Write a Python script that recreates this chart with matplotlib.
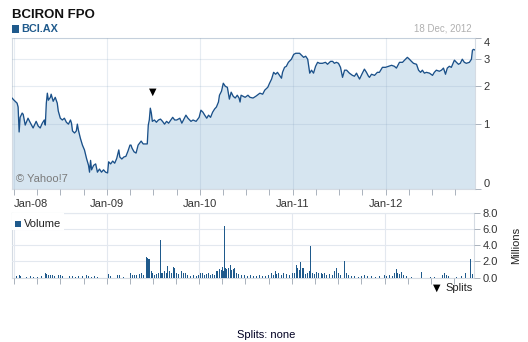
import numpy as np
import pandas as pd
import matplotlib
matplotlib.use('Agg')
import matplotlib.pyplot as plt
import matplotlib.dates as mdates
from matplotlib.patches import Rectangle
from matplotlib.ticker import FixedLocator, FormatStrFormatter

plt.rcParams['font.family'] = ['Liberation Sans', 'DejaVu Sans']

# ---- data --------------------------------------------------------------------
price_dates = [
    '2007-12-24', '2008-01-01', '2008-01-13', '2008-01-17', '2008-01-21', '2008-01-25',
    '2008-02-02', '2008-02-06', '2008-02-14', '2008-02-25', '2008-03-04', '2008-03-16',
    '2008-03-28', '2008-04-05', '2008-04-13', '2008-04-21', '2008-04-29', '2008-05-03',
    '2008-05-07', '2008-05-11', '2008-05-15', '2008-05-23', '2008-05-26', '2008-06-03',
    '2008-06-11', '2008-06-19', '2008-06-23', '2008-07-01', '2008-07-09', '2008-07-17',
    '2008-07-25', '2008-08-02', '2008-08-10', '2008-08-14', '2008-08-18', '2008-08-26',
    '2008-09-02', '2008-09-06', '2008-09-10', '2008-09-18', '2008-09-26', '2008-10-04',
    '2008-10-12', '2008-10-20', '2008-10-24', '2008-10-28', '2008-11-01', '2008-11-09',
    '2008-11-17', '2008-11-24', '2008-12-02', '2008-12-10', '2008-12-18', '2008-12-26',
    '2009-01-03', '2009-01-07', '2009-01-15', '2009-01-23', '2009-01-31', '2009-02-08',
    '2009-02-16', '2009-02-20', '2009-02-28', '2009-03-08', '2009-03-16', '2009-03-24',
    '2009-04-01', '2009-04-05', '2009-04-09', '2009-04-17', '2009-04-25', '2009-05-03',
    '2009-05-15', '2009-05-23', '2009-06-08', '2009-06-12', '2009-06-16', '2009-06-20',
    '2009-06-24', '2009-06-28', '2009-07-06', '2009-07-14', '2009-07-22', '2009-07-30',
    '2009-08-07', '2009-08-15', '2009-08-23', '2009-08-31', '2009-09-16', '2009-09-24',
    '2009-10-02', '2009-10-14', '2009-10-22', '2009-11-07', '2009-11-15', '2009-11-27',
    '2009-12-05', '2009-12-17', '2009-12-29', '2010-01-05', '2010-01-13', '2010-01-20',
    '2010-01-28', '2010-02-04', '2010-02-12', '2010-02-20', '2010-02-28', '2010-03-07',
    '2010-03-15', '2010-03-19', '2010-03-27', '2010-04-03', '2010-04-11', '2010-04-19',
    '2010-04-27', '2010-05-04', '2010-05-12', '2010-05-20', '2010-05-28', '2010-06-04',
    '2010-06-08', '2010-06-12', '2010-06-20', '2010-06-28', '2010-07-09', '2010-07-17',
    '2010-07-29', '2010-08-09', '2010-08-25', '2010-09-05', '2010-09-13', '2010-09-25',
    '2010-10-02', '2010-10-10', '2010-10-18', '2010-10-26', '2010-11-02', '2010-11-10',
    '2010-11-18', '2010-11-22', '2010-11-30', '2010-12-07', '2010-12-15', '2010-12-23',
    '2010-12-27', '2011-01-05', '2011-01-13', '2011-01-21', '2011-01-28', '2011-02-05',
    '2011-02-13', '2011-02-21', '2011-03-01', '2011-03-09', '2011-03-16', '2011-03-24',
    '2011-04-01', '2011-04-09', '2011-04-17', '2011-04-28', '2011-05-10', '2011-05-18',
    '2011-05-30', '2011-06-07', '2011-06-14', '2011-06-22', '2011-06-30', '2011-07-08',
    '2011-07-16', '2011-07-24', '2011-08-01', '2011-08-12', '2011-08-24', '2011-09-01',
    '2011-09-09', '2011-09-13', '2011-09-21', '2011-10-02', '2011-10-10', '2011-10-18',
    '2011-10-26', '2011-10-30', '2011-11-07', '2011-11-19', '2011-11-30', '2011-12-08',
    '2011-12-20', '2012-01-01', '2012-01-13', '2012-01-25', '2012-02-05', '2012-02-13',
    '2012-02-25', '2012-03-08', '2012-03-16', '2012-03-27', '2012-04-04', '2012-04-12',
    '2012-04-20', '2012-05-02', '2012-05-10', '2012-05-18', '2012-05-25', '2012-06-02',
    '2012-06-10', '2012-06-22', '2012-07-04', '2012-07-11', '2012-07-19', '2012-07-31',
    '2012-08-08', '2012-08-16', '2012-08-24', '2012-08-31', '2012-09-08', '2012-09-16',
    '2012-09-28', '2012-10-06', '2012-10-14', '2012-10-21', '2012-10-29', '2012-11-06',
    '2012-11-14', '2012-11-26', '2012-12-04', '2012-12-08', '2012-12-12', '2012-12-18',
]
prices = [
    1.64, 1.58, 1.50, 1.40, 0.84, 1.15,
    1.25, 1.22, 0.98, 1.13, 1.04, 0.92,
    1.06, 0.96, 0.92, 1.02, 1.09, 0.98,
    1.50, 1.78, 1.58, 1.66, 1.75, 1.55,
    1.66, 1.50, 1.30, 1.13, 1.09, 1.13,
    1.04, 1.00, 1.09, 1.02, 0.86, 0.82,
    0.86, 1.00, 0.88, 0.72, 0.60, 0.52,
    0.39, 0.29, 0.20, 0.36, 0.23, 0.29,
    0.31, 0.20, 0.24, 0.20, 0.23, 0.20,
    0.19, 0.34, 0.31, 0.35, 0.32, 0.39,
    0.52, 0.41, 0.38, 0.41, 0.42, 0.50,
    0.60, 0.60, 0.55, 0.49, 0.47, 0.60,
    0.67, 0.62, 0.62, 0.98, 1.09, 1.37,
    1.25, 1.06, 1.09, 1.04, 1.09, 1.11,
    1.06, 1.00, 1.06, 1.02, 1.15, 1.09,
    1.09, 1.13, 1.02, 1.20, 1.13, 1.06,
    1.09, 1.06, 1.15, 1.32, 1.27, 1.20,
    1.13, 1.20, 1.15, 1.27, 1.35, 1.40,
    1.53, 1.72, 1.84, 2.09, 1.99, 1.96,
    1.61, 1.81, 1.69, 1.64, 1.72, 1.64,
    1.53, 1.72, 1.69, 1.66, 1.72, 1.66,
    1.64, 1.69, 1.78, 1.75, 1.87, 1.96,
    2.09, 2.23, 2.47, 2.40, 2.47, 2.36,
    2.26, 2.47, 2.66, 2.70, 2.86, 2.95,
    2.99, 3.20, 3.25, 3.25, 3.25, 3.16,
    3.07, 3.12, 2.99, 2.44, 2.55, 2.44,
    2.70, 2.86, 2.82, 2.82, 2.86, 2.78,
    2.90, 2.90, 2.82, 2.86, 2.82, 2.66,
    2.29, 2.55, 2.55, 2.44, 2.36, 2.33,
    2.44, 2.36, 2.23, 2.44, 2.59, 2.47,
    2.33, 2.29, 2.40, 2.36, 2.47, 2.47,
    2.66, 2.66, 2.70, 2.74, 2.70, 2.63,
    2.86, 2.86, 2.95, 3.07, 2.99, 2.90,
    2.82, 2.78, 2.55, 2.47, 2.55, 2.44,
    2.47, 2.44, 2.36, 2.47, 2.55, 2.51,
    2.55, 2.63, 2.40, 2.63, 2.70, 2.66,
    2.95, 2.86, 2.78, 2.82, 2.99, 2.86,
    2.82, 2.86, 2.99, 3.39, 3.43, 3.40,
]

volume_dates = [
    '2008-01-09', '2008-01-21', '2008-01-25', '2008-02-21', '2008-03-04', '2008-03-16',
    '2008-04-01', '2008-04-17', '2008-05-03', '2008-05-07', '2008-05-15', '2008-05-23',
    '2008-05-30', '2008-06-07', '2008-06-23', '2008-07-01', '2008-07-09', '2008-08-06',
    '2008-08-18', '2008-08-30', '2008-09-10', '2008-09-26', '2008-10-12', '2008-10-20',
    '2008-11-01', '2008-11-13', '2008-11-24', '2009-01-07', '2009-01-15', '2009-02-12',
    '2009-02-20', '2009-03-08', '2009-04-05', '2009-04-13', '2009-04-21', '2009-04-29',
    '2009-05-11', '2009-05-19', '2009-05-27', '2009-06-08', '2009-06-12', '2009-06-16',
    '2009-06-24', '2009-06-28', '2009-07-06', '2009-07-14', '2009-07-22', '2009-07-30',
    '2009-08-03', '2009-08-07', '2009-08-15', '2009-08-23', '2009-08-27', '2009-09-04',
    '2009-09-12', '2009-09-20', '2009-09-24', '2009-10-02', '2009-10-10', '2009-10-22',
    '2009-10-30', '2009-11-07', '2009-11-15', '2009-11-27', '2009-12-09', '2009-12-21',
    '2009-12-29', '2010-01-05', '2010-01-13', '2010-01-20', '2010-01-28', '2010-02-04',
    '2010-02-12', '2010-02-20', '2010-02-28', '2010-03-11', '2010-03-19', '2010-03-27',
    '2010-04-03', '2010-04-07', '2010-04-11', '2010-04-15', '2010-04-19', '2010-04-27',
    '2010-05-04', '2010-05-08', '2010-05-16', '2010-05-20', '2010-05-28', '2010-06-04',
    '2010-06-16', '2010-06-28', '2010-07-09', '2010-07-21', '2010-08-02', '2010-08-13',
    '2010-08-25', '2010-09-05', '2010-09-17', '2010-09-29', '2010-10-10', '2010-10-18',
    '2010-10-26', '2010-11-02', '2010-11-10', '2010-11-22', '2010-11-30', '2010-12-11',
    '2010-12-23', '2011-01-01', '2011-01-09', '2011-01-17', '2011-01-24', '2011-02-01',
    '2011-02-05', '2011-02-13', '2011-02-21', '2011-03-01', '2011-03-09', '2011-03-16',
    '2011-03-24', '2011-04-01', '2011-04-09', '2011-04-17', '2011-04-25', '2011-05-02',
    '2011-05-10', '2011-05-18', '2011-05-30', '2011-06-10', '2011-06-18', '2011-06-26',
    '2011-07-04', '2011-07-12', '2011-07-28', '2011-08-05', '2011-08-12', '2011-08-24',
    '2011-09-05', '2011-09-21', '2011-10-02', '2011-10-14', '2011-10-26', '2011-11-11',
    '2011-11-27', '2011-12-12', '2012-01-01', '2012-01-09', '2012-01-21', '2012-02-01',
    '2012-02-09', '2012-02-17', '2012-02-21', '2012-02-29', '2012-03-08', '2012-03-16',
    '2012-03-27', '2012-04-16', '2012-05-25', '2012-06-30', '2012-07-15', '2012-08-16',
    '2012-08-24', '2012-08-31', '2012-09-08', '2012-10-10', '2012-10-29', '2012-11-14',
    '2012-12-04', '2012-12-12',
]
volumes = [  # millions
    0.20, 0.30, 0.20, 0.10, 0.15, 0.10,
    0.10, 0.15, 0.60, 0.40, 0.30, 0.35,
    0.30, 0.20, 0.30, 0.35, 0.20, 0.15,
    0.15, 0.10, 0.15, 0.20, 0.30, 0.15,
    0.10, 0.15, 0.10, 0.40, 0.15, 0.30,
    0.35, 0.10, 0.50, 0.35, 0.30, 0.30,
    0.40, 0.50, 0.30, 2.60, 2.40, 2.30,
    0.80, 0.50, 0.30, 0.40, 0.50, 4.70,
    0.60, 0.50, 0.80, 0.60, 1.40, 0.80,
    0.50, 1.30, 1.20, 0.60, 0.40, 0.80,
    0.50, 0.60, 0.30, 0.20, 0.30, 0.20,
    0.30, 0.50, 0.60, 0.30, 0.40, 0.50,
    0.30, 0.40, 0.30, 0.80, 1.00, 0.90,
    1.30, 0.80, 6.45, 1.20, 1.00, 1.20,
    1.60, 0.90, 1.00, 1.20, 0.50, 0.40,
    0.30, 0.30, 0.20, 0.30, 0.20, 0.20,
    0.30, 0.20, 0.20, 0.30, 0.50, 0.30,
    0.80, 0.40, 0.60, 0.30, 0.50, 0.40,
    0.30, 0.50, 0.60, 1.60, 1.20, 0.90,
    1.90, 1.20, 0.40, 0.50, 0.80, 3.90,
    0.60, 0.40, 0.70, 0.50, 0.60, 0.40,
    0.50, 0.30, 0.40, 0.30, 0.80, 1.20,
    0.50, 0.30, 2.10, 0.50, 0.30, 0.20,
    0.20, 0.10, 0.20, 0.30, 0.20, 0.20,
    0.10, 0.20, 0.30, 0.20, 0.30, 0.20,
    0.50, 1.10, 0.60, 0.40, 0.70, 0.30,
    0.20, 0.10, 0.70, 0.10, 0.10, 0.30,
    0.50, 0.30, 0.20, 0.10, 0.20, 0.50,
    2.30, 0.40,
]

split_dates = ['2009-07-01']
year_ticks = ['2008-01-01', '2009-01-01', '2010-01-01', '2011-01-01', '2012-01-01']
price_ticks = [0, 1, 2, 3, 4]
volume_ticks = [0, 2, 4, 6, 8]

# ---- styling ---------------------------------------------------------------------
W, H = 528, 342
LINE = '#1a5089'
FILL = '#d6e5f0'
BAR = '#1f5a8c'
GRID = '#e3e8ef'
SPINE = '#d5dbe3'
TICK = '#aab2bc'

px = pd.to_datetime(price_dates)
vx = pd.to_datetime(volume_dates)
yt_dates = mdates.date2num(pd.to_datetime(year_ticks))
x0, x1 = pd.Timestamp('2007-12-24'), pd.Timestamp('2012-12-18')


def fx(x):
    return x / W


def fy(y):
    return 1 - y / H


fig = plt.figure(figsize=(W / 100, H / 100), dpi=100)
ax = fig.add_axes([fx(12), fy(189.3), fx(463), 151.3 / H])
axv = fig.add_axes([fx(12), fy(277.5), fx(462), 64.2 / H])

# price panel
ax.set_yscale('function', functions=(np.log1p, np.expm1))
ax.fill_between(px, prices, 0, color=FILL, lw=0, zorder=1)
ax.plot(px, prices, color=LINE, lw=0.95, zorder=3)
ax.set_ylim(0, 4)
ax.set_xlim(x0, x1)
ax.yaxis.set_major_locator(FixedLocator(price_ticks))
ax.yaxis.set_major_formatter(FormatStrFormatter('%d'))
ax.grid(True, which='major', color='#8fa9c4', alpha=0.22, lw=0.8, zorder=2)

# split marker
for d in split_dates:
    d = pd.Timestamp(d)
    ax.annotate('\u25BC', xy=(d, np.interp(mdates.date2num(d), mdates.date2num(px), prices)),
                xytext=(0, 21), textcoords='offset points', ha='center', va='center',
                fontsize=7, color='black', family='DejaVu Sans', zorder=5)

ax.text(0.008, 0.07, '\u00A9 Yahoo!7', transform=ax.transAxes, fontsize=8,
        color='#7a7a7a', ha='left', va='center', zorder=4)

# volume panel
axv.bar(vx, volumes, width=4, color=BAR, lw=0, antialiased=False, zorder=3)
axv.set_xlim(x0, x1)
axv.set_ylim(0, 8)
axv.yaxis.set_major_locator(FixedLocator(volume_ticks))
axv.yaxis.set_major_formatter(FormatStrFormatter('%.1f'))
axv.grid(True, which='major', color=GRID, lw=0.8, zorder=0)
axv.set_ylabel('Millions', fontsize=8, color='#222222', labelpad=10)
axv.yaxis.set_label_position('right')

for a in (ax, axv):
    a.yaxis.tick_right()
    a.xaxis.set_major_locator(FixedLocator(yt_dates))
    a.xaxis.set_minor_locator(mdates.MonthLocator(bymonth=[4, 7, 10]))
    a.xaxis.set_major_formatter(mdates.DateFormatter('%b-%y'))
    a.tick_params(axis='both', which='both', direction='out', length=4, width=0.7,
                  color=TICK, labelsize=8, labelcolor='#333333', pad=2)
    a.set_axisbelow(False)
    for s in a.spines.values():
        s.set_color(SPINE)
        s.set_linewidth(0.8)

axv.tick_params(axis='x', labelbottom=False)
ax.tick_params(axis='x', pad=3)

# volume legend box
axv.add_patch(Rectangle((0, 0.74), 0.112, 0.26, transform=axv.transAxes, fc='white',
                        ec='none', zorder=5))
axv.add_patch(Rectangle((fx(15), fy(226.5)), fx(6), 6 / H, transform=fig.transFigure,
                        fc=BAR, ec='none', zorder=6))
axv.text(0.025, 0.83, 'Volume', transform=axv.transAxes, fontsize=8, color='#222222',
         ha='left', va='center', zorder=6)

# header texts
fig.text(fx(12), fy(15.3), 'BCIRON FPO', fontsize=9.5, fontweight='bold', color='#111111',
         ha='left', va='center')
fig.patches.append(Rectangle((fx(12), fy(32.5)), fx(7), 7 / H, transform=fig.transFigure,
                             fc=BAR, ec='none', figure=fig))
fig.text(fx(21.5), fy(29), 'BCI.AX', fontsize=7.8, fontweight='bold', color=BAR,
         ha='left', va='center')
fig.text(fx(472), fy(28.7), '18 Dec, 2012', fontsize=7, color='#b0b0b0',
         ha='right', va='center')

# split footer
fig.text(fx(433), fy(288), '\u25BC', fontsize=7, color='black', ha='left', va='center',
         family='DejaVu Sans')
fig.text(fx(445), fy(288), 'Splits', fontsize=8, color='#222222', ha='left', va='center')
fig.text(fx(266), fy(335), 'Splits: none', fontsize=8, color='#000022', ha='center',
         va='center')

# edge tick labels nudged inward like the original
fig.canvas.draw()
xt = ax.xaxis.get_major_ticks()
xt[0].label1.set_horizontalalignment('left')
yt = ax.yaxis.get_major_ticks()
yt[0].label2.set_verticalalignment('bottom')
yt[-1].label2.set_verticalalignment('top')

fig.savefig('out.png', dpi=100)
